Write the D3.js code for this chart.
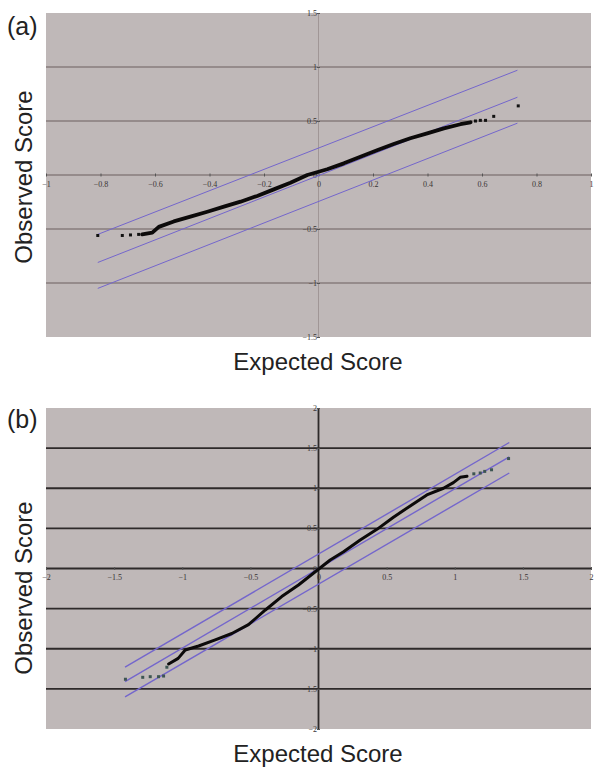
<!DOCTYPE html>
<html>
<head>
<meta charset="utf-8">
<script src="https://cdn.jsdelivr.net/npm/d3@7"></script>
<style>
  body { margin: 0; background: #fff; }
  svg { display: block; }
</style>
</head>
<body>
<div id="chart"></div>
<script>
const width = 601;
const height = 777;

// panel (a) – dense observed points, sparse tails, confidence band
const aCurveX = [-0.647, -0.61, -0.586, -0.531, -0.47, -0.408, -0.347, -0.286, -0.225, -0.164, -0.103, -0.041, 0.032, 0.093, 0.154, 0.215, 0.276, 0.337, 0.399, 0.46, 0.521, 0.558];
const aCurveY = [-0.55, -0.534, -0.48, -0.43, -0.386, -0.34, -0.293, -0.247, -0.194, -0.133, -0.071, 0.0, 0.053, 0.108, 0.17, 0.23, 0.287, 0.34, 0.386, 0.432, 0.47, 0.488];
const aTailX = [-0.81, -0.72, -0.69, -0.66, 0.576, 0.594, 0.613, 0.643, 0.733];
const aTailY = [-0.56, -0.56, -0.555, -0.55, 0.5, 0.506, 0.506, 0.543, 0.64];
const aBandX = [-0.81, 0.73];
const aBandMid = [-0.81, 0.72];
const aBandUpper = [-0.55, 0.97];
const aBandLower = [-1.05, 0.48];
const aXTicks = [-1, -0.8, -0.6, -0.4, -0.2, 0, 0.2, 0.4, 0.6, 0.8, 1];
const aYTicks = [1.5, 1, 0.5, 0, -0.5, -1, -1.5];

// panel (b)
const bCurveX = [-1.1, -1.03, -0.978, -0.88, -0.758, -0.636, -0.514, -0.39, -0.27, -0.147, -0.024, 0.086, 0.184, 0.306, 0.429, 0.55, 0.673, 0.795, 0.917, 0.99, 1.04, 1.09];
const bCurveY = [-1.19, -1.12, -1.016, -0.966, -0.89, -0.81, -0.70, -0.517, -0.35, -0.206, -0.04, 0.106, 0.21, 0.355, 0.488, 0.638, 0.78, 0.917, 1.0, 1.07, 1.136, 1.15];
const bTailX = [-1.417, -1.29, -1.235, -1.174, -1.137, -1.113, 1.14, 1.187, 1.22, 1.27, 1.395];
const bTailY = [-1.38, -1.356, -1.348, -1.348, -1.34, -1.23, 1.18, 1.19, 1.21, 1.23, 1.37];
const bBandX = [-1.42, 1.4];
const bBandMid = [-1.41, 1.39];
const bBandUpper = [-1.23, 1.57];
const bBandLower = [-1.6, 1.19];
const bXTicks = [-2, -1.5, -1, -0.5, 0, 0.5, 1, 1.5, 2];
const bYTicks = [2, 1.5, 1, 0.5, 0, -0.5, -1, -1.5, -2];

const svg = d3
  .select("#chart")
  .append("svg")
  .attr("width", width)
  .attr("height", height)
  .style("font-family", "'Liberation Sans', Arial, sans-serif");

const plotFill = "#bfb8b8";
const bandColor = "#7466cc";

drawPanel({
  letter: "(a)",
  top: 13,
  bottom: 337,
  xDomain: [-1, 1],
  yDomain: [-1.5, 1.5],
  xTicks: aXTicks,
  yTicks: aYTicks,
  gridColor: "#877d7d",
  gridWidth: 1.4,
  axisColor: "#a09696",
  axisWidth: 1,
  bandWidth: 1,
  curveWidth: 3.8,
  curveX: aCurveX,
  curveY: aCurveY,
  tailX: aTailX,
  tailY: aTailY,
  tailColor: "#111",
  bandX: aBandX,
  bands: [aBandUpper, aBandMid, aBandLower],
  letterY: 35,
  yLabelCenter: 177,
  xLabelY: 370,
});

drawPanel({
  letter: "(b)",
  top: 408,
  bottom: 729,
  xDomain: [-2, 2],
  yDomain: [-2, 2],
  xTicks: bXTicks,
  yTicks: bYTicks,
  gridColor: "#2e2a2a",
  gridWidth: 1.8,
  axisColor: "#2e2a2a",
  axisWidth: 1.8,
  bandWidth: 1.4,
  curveWidth: 3,
  curveX: bCurveX,
  curveY: bCurveY,
  tailX: bTailX,
  tailY: bTailY,
  tailColor: "#3d5552",
  bandX: bBandX,
  bands: [bBandUpper, bBandMid, bBandLower],
  letterY: 428,
  yLabelCenter: 588,
  xLabelY: 762,
});

function drawPanel(p) {
  const x = d3.scaleLinear().domain(p.xDomain).range([46, 591]);
  const y = d3.scaleLinear().domain(p.yDomain).range([p.bottom, p.top]);
  const g = svg.append("g");

  g.append("rect")
    .attr("x", 46)
    .attr("y", p.top)
    .attr("width", 545)
    .attr("height", p.bottom - p.top)
    .attr("fill", plotFill);

  // horizontal gridlines (incl. zero line)
  g.selectAll(".grid")
    .data(p.yTicks.filter((d) => d !== p.yDomain[0] && d !== p.yDomain[1]))
    .join("line")
    .attr("x1", 46)
    .attr("x2", 591)
    .attr("y1", (d) => y(d))
    .attr("y2", (d) => y(d))
    .attr("stroke", p.gridColor)
    .attr("stroke-width", p.gridWidth);

  // vertical axis at x = 0
  g.append("line")
    .attr("x1", x(0))
    .attr("x2", x(0))
    .attr("y1", p.top)
    .attr("y2", p.bottom)
    .attr("stroke", p.axisColor)
    .attr("stroke-width", p.axisWidth);

  // x axis ticks + labels sitting on the zero line
  const xAxis = d3
    .axisBottom(x)
    .tickValues(p.xTicks)
    .tickSize(3)
    .tickFormat((d) => d3.format("")(d));
  g.append("g")
    .attr("transform", `translate(0,${y(0) - 1.5})`)
    .call(xAxis)
    .call((a) => a.select(".domain").remove())
    .call((a) => a.selectAll("line").attr("stroke", "#555"))
    .call((a) =>
      a
        .selectAll("text")
        .attr("fill", "#3a3535")
        .attr("font-family", "'Liberation Serif', serif")
        .attr("font-size", 8)
        .attr("dy", "0.9em"),
    );

  const yAxis = d3
    .axisLeft(y)
    .tickValues(p.yTicks)
    .tickSize(3)
    .tickFormat((d) => d3.format("")(d));
  g.append("g")
    .attr("transform", `translate(${x(0) + 1.5},0)`)
    .call(yAxis)
    .call((a) => a.select(".domain").remove())
    .call((a) => a.selectAll("line").attr("stroke", "#555"))
    .call((a) =>
      a
        .selectAll("text")
        .attr("fill", "#3a3535")
        .attr("font-family", "'Liberation Serif', serif")
        .attr("font-size", 8)
        .attr("x", -3),
    );

  // confidence band lines
  p.bands.forEach((band) => {
    g.append("line")
      .attr("x1", x(p.bandX[0]))
      .attr("y1", y(band[0]))
      .attr("x2", x(p.bandX[1]))
      .attr("y2", y(band[1]))
      .attr("stroke", bandColor)
      .attr("stroke-width", p.bandWidth);
  });

  // dense observed points
  const curve = p.curveX.map((d, i) => [d, p.curveY[i]]);
  g.append("path")
    .datum(curve)
    .attr("fill", "none")
    .attr("stroke", "#0c0a0a")
    .attr("stroke-width", p.curveWidth)
    .attr("stroke-linejoin", "round")
    .attr("stroke-linecap", "round")
    .attr("d", d3.line((d) => x(d[0]), (d) => y(d[1])));

  const tail = p.tailX.map((d, i) => [d, p.tailY[i]]);
  g.selectAll(".tail")
    .data(tail)
    .join("rect")
    .attr("x", (d) => x(d[0]) - 1.5)
    .attr("y", (d) => y(d[1]) - 1.5)
    .attr("width", 3)
    .attr("height", 3)
    .attr("fill", p.tailColor);

  svg.append("text")
    .attr("x", 7)
    .attr("y", p.letterY)
    .attr("font-size", 25)
    .attr("fill", "#222")
    .text(p.letter);

  svg.append("text")
    .attr("transform", `translate(32,${p.yLabelCenter}) rotate(-90)`)
    .attr("text-anchor", "middle")
    .attr("font-size", 24)
    .attr("fill", "#222")
    .text("Observed Score");

  svg.append("text")
    .attr("x", 318)
    .attr("y", p.xLabelY)
    .attr("text-anchor", "middle")
    .attr("font-size", 24)
    .attr("fill", "#222")
    .text("Expected Score");
}
</script>
</body>
</html>
